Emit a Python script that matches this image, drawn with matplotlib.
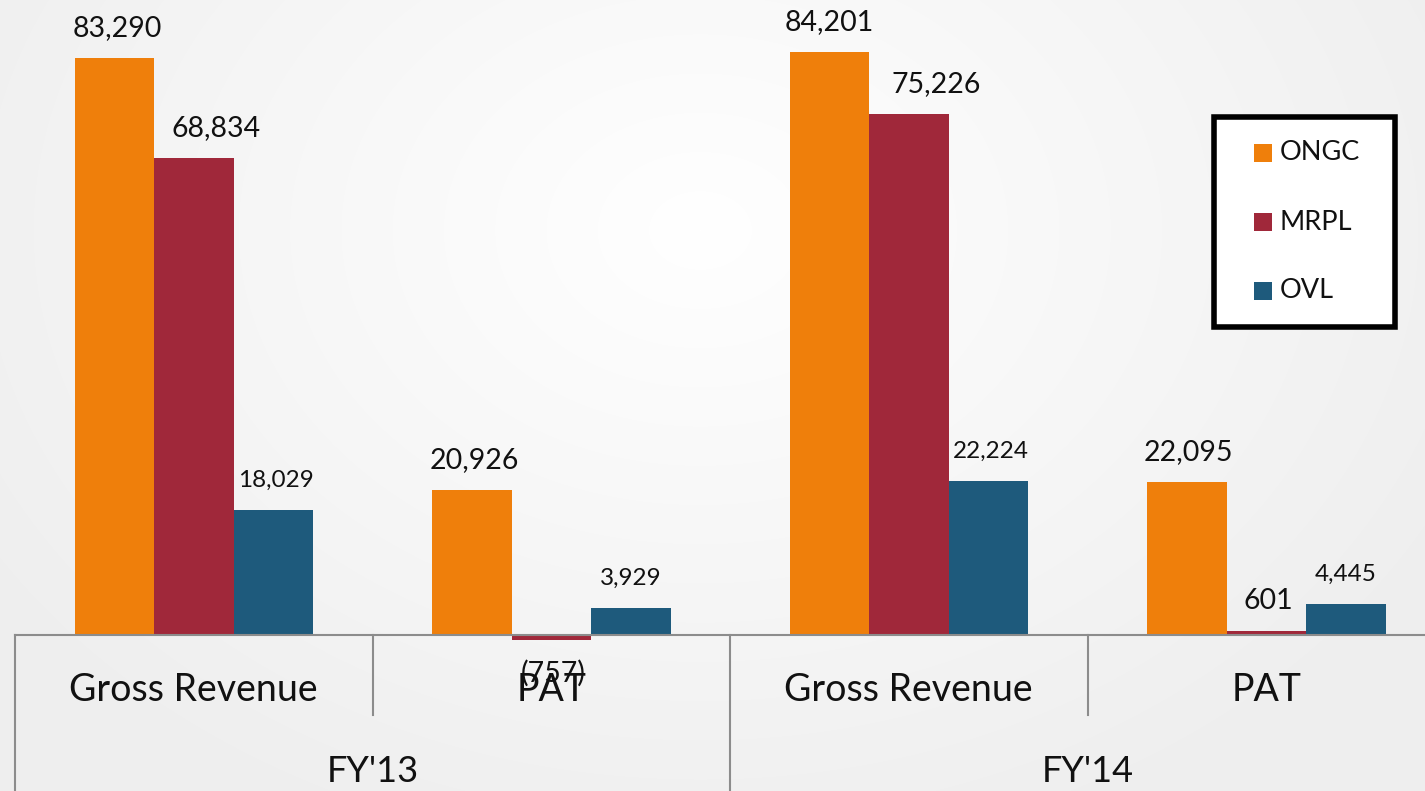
import numpy as np
import matplotlib
matplotlib.use("Agg")
import matplotlib.pyplot as plt
from matplotlib.patches import Rectangle
import matplotlib.transforms as mtransforms

plt.rcParams['font.family'] = ['Lato', 'DejaVu Sans']

categories = ["Gross Revenue", "PAT", "Gross Revenue", "PAT"]
years = ["FY'13", "FY'14"]
series = ["ONGC", "MRPL", "OVL"]
ongc = [83290, 20926, 84201, 22095]
mrpl = [68834, -757, 75226, 601]
ovl = [18029, 3929, 22224, 4445]
colors = ["#EF7F0B", "#A0283A", "#1E5A7C"]

# label styling (font size, x-offset in px) per series/category
label_fs = [[20.5] * 4, [20.5] * 4, [17.5] * 4]
label_dx = [[3, 3, 0, 2], [22, 2, 27, 2], [3, 0, 3, 0]]

W, H = 1425, 791
fig = plt.figure(figsize=(W / 100, H / 100), dpi=100)

# background radial gradient
bg = fig.add_axes([0, 0, 1, 1], zorder=0)
yy, xx = np.mgrid[0:H, 0:W]
d = np.sqrt(((xx - 700) / 850.0) ** 2 + ((yy - 230) / 650.0) ** 2)
val = 1.0 - 0.065 * np.clip(d, 0, 1)
bg.imshow(np.dstack([val, val, val]), aspect='auto', extent=[0, W, H, 0])
bg.axis('off')

ax = fig.add_axes([0, 0, 1, 1], zorder=1)
ax.patch.set_alpha(0)
px_per_unit = 577 / 83290.0
zero_px = 635
ax.set_ylim(-(H - zero_px) / px_per_unit, zero_px / px_per_unit)
cat_w = 357.5
xmin = -0.5 - 15 / cat_w
ax.set_xlim(xmin, xmin + W / cat_w)
ax.axis('off')

x = np.arange(len(categories))
bw = 79.5 / cat_w
all_vals = [ongc, mrpl, ovl]
for si, (vals, c) in enumerate(zip(all_vals, colors)):
    pos = x + (si - 1) * bw
    ax.bar(pos, vals, width=bw, color=c, label=series[si], zorder=3)
    for ci, (p, v) in enumerate(zip(pos, vals)):
        txt = f"{v:,}" if v >= 0 else f"({-v:,})"
        off = 21.5 if v >= 0 else -24
        ax.annotate(txt, (p, v), xytext=(label_dx[si][ci] * 0.72, off),
                    textcoords='offset points', ha='center', va='center',
                    fontsize=label_fs[si][ci], color='#111111', zorder=5)

# axis & separators
gray = '#8C8C8C'
trans = mtransforms.blended_transform_factory(ax.transData, ax.transAxes)
ax.axhline(0, xmin=(-0.5 - xmin) / (W / cat_w), xmax=1, color=gray, lw=1.5, zorder=4)
short_y = (H - 715) / H
top = (H - zero_px) / H
for i in range(len(categories) + 1):
    b = i - 0.5
    lo = 0 if i % 2 == 0 else short_y
    ax.plot([b, b], [lo, top], color=gray, lw=1.5, transform=trans, clip_on=False)

cat_y = (H - 690) / H
for i, c in enumerate(categories):
    ax.text(i, cat_y, c, transform=trans, ha='center', va='center', fontsize=27, color='#111111')
yr_y = (H - 772) / H
for j, yname in enumerate(years):
    ax.text(2 * j + 0.5, yr_y, yname, transform=trans, ha='center', va='center', fontsize=26, color='#111111')

# legend drawn manually in figure pixels
ftr = fig.transFigure
def fx(px):
    return px / W
def fy(py):
    return 1 - py / H
leg_ax = fig.add_axes([0, 0, 1, 1], zorder=6)
leg_ax.set_xlim(0, W)
leg_ax.set_ylim(H, 0)
leg_ax.axis('off')
leg_ax.patch.set_alpha(0)
leg_ax.add_patch(Rectangle((1214, 117), 181, 210, facecolor='white', edgecolor='black', lw=4))
for i, (s, c) in enumerate(zip(series, colors)):
    yc = 153 + 69 * i
    leg_ax.add_patch(Rectangle((1254, yc - 9), 18, 18, facecolor=c, edgecolor='none'))
    leg_ax.text(1280, yc, s, ha='left', va='center', fontsize=19.5, color='#111111')

fig.savefig("out.png", dpi=100)
